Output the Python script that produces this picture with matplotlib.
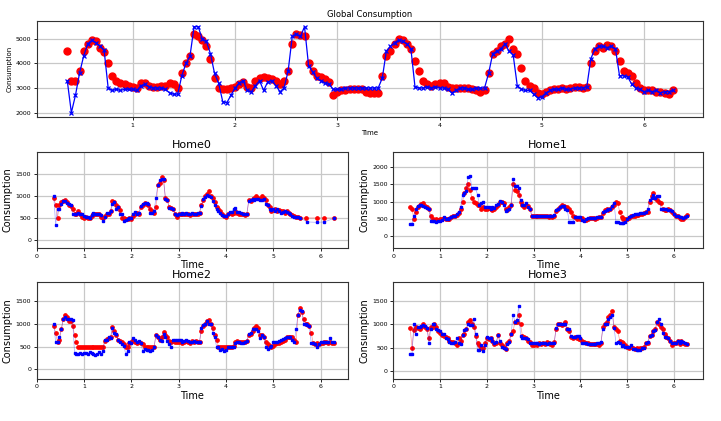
import numpy as np
import matplotlib
matplotlib.use("Agg")
import matplotlib.pyplot as plt

nan = np.nan

# sample times, one every 0.04 from 0.36 to 6.28
time = np.round(np.arange(0.36, 6.2801, 0.04), 2)

# global consumption: red = measured, blue = predicted
global_red = [
    4500, 3300, 3300, 3700, 4500, 4800, 4950, 4900, 4650, 4450, 4000, 3500, 3300, 3200, 3150, 3100,
    3050, 3000, 3200, 3200, 3100, 3050, 3050, 3100, 3100, 3200, 3150, 3000, 3600, 4000, 4300, 5200, 5100, 4950, 4700, 4200, 3400, 3000, 2950, 2950, 3000,
    3050, 3150, 3250, 3050, 3000, 3300, 3400, 3450, 3400, 3350, 3300, 3150, 3300, 3700, 4800, 5200, 5150, 5100, 4000, 3700, 3500, 3450, 3350, 3250, 2700,
    2850, 2900, 2900, 2950, 2950, 2950, 2950, 2850, 2780, 2780, 2800, 3500, 4300, 4500, 4800, 5000, 4950, 4800, 4600, 4100, 3700, 3300, 3150, 3100, 3150,
    3200, 3200, 3050, 3000, 3000, 3000, 3000, 3000, 2950, 2900, 2850, 2900, 3600, 4400, 4500, 4700, 4800, 5000, 4600, 4400, 3800, 3300, 3100, 3000, 2800,
    2750, 2850, 2900, 2950, 2950, 3000, 2950, 3000, 3050, 3050, 3000, 3050, 4000, 4500, 4700, 4650, 4750, 4700, 4500, 4100, 3700, 3600, 3500, 3200, 3000,
    2900, 2900, 2900, 2850, 2850, 2800, 2750, 2900,
]
global_blue = [
    3300, 2000, 2700, 3600, 4300, 4800, 4950, 4850, 4700, 4550, 3000, 2900, 2950, 2900, 2950, 2950,
    2950, 2900, 3100, 3150, 3050, 3000, 3000, 3000, 2950, 2800, 2750, 2750, 3500, 4000, 4300, 5500, 5500, 5000, 4900, 4400, 3600, 3200, 2450, 2400, 2700,
    3000, 3200, 3300, 2900, 2850, 3100, 3300, 2900, 3250, 3300, 3100, 2850, 3000, 3700, 5100, 5200, 5100, 5500, 3900, 3650, 3400, 3300, 3200, 3150, 2950,
    2950, 2950, 3000, 3000, 3000, 3000, 3000, 3000, 3000, 3000, 3000, 3400, 4500, 4700, 4850, 4950, 4900, 4800, 4600, 3050, 3000, 3000, 3050, 3000, 3050,
    3000, 3000, 2950, 2800, 2900, 3000, 3000, 2950, 2950, 3000, 3000, 3000, 3600, 4400, 4500, 4600, 4800, 4500, 4350, 3100, 2950, 2900, 2900, 2750, 2600,
    2650, 2800, 2900, 2950, 2950, 3000, 2950, 2950, 3000, 3000, 3000, 3050, 4200, 4600, 4700, 4700, 4650, 4700, 4600, 3500, 3500, 3450, 3150, 3000, 2950,
    2850, 2900, 2850, 2900, 2800, 2850, 2850, 2900,
]

home0_red = [
    950, 800, 500, 800, 850, 880, 900, 850, 800, 780, 700, 600, 600, 650, 600, 520,
    500, 520, 500, 490, 550, 600, 580, 600, 580, 520, 500, 550, 600, 600, 650, 880, 850, 800, 750, 680, 500, 500, 480, 480, 500,
    480, 550, 600, 620, 580, 750, 800, 830, 820, 800, 700, 650, 620, 750, 1250, 1300, 1420, 1350, 950, 900, 750, 720, 700, 600, 520,
    580, 600, 600, 580, 600, 580, 570, 600, 580, 580, 600, 620, 800, 900, 1000, 1050, 1100, 1000, 950, 850, 750, 700, 650, 600, 550,
    520, 580, 620, 600, 620, 650, 620, 600, 600, 580, 560, 580, 900, 880, 920, 950, 1000, 950, 920, 1000, 950, 900, 800, 750, 650,
    680, 700, 650, 680, 650, 650, 620, 650, 620, 600, 560, 550, 520, 530, 500, nan, nan, 500, nan, nan, nan, nan, nan, 500, nan,
    nan, nan, 500, nan, nan, nan, nan, 500,
]
home0_blue = [
    1000, 350, 700, 700, 820, 880, 880, 830, 820, 800, 580, 580, 600, 620, 580, 600,
    550, 530, 520, 500, 560, 620, 600, 600, 580, 560, 420, 520, 620, 620, 650, 820, 850, 700, 750, 580, 580, 430, 450, 480, 500,
    500, 600, 640, 600, 620, 760, 820, 840, 830, 820, 620, 620, 650, 960, 1250, 1350, 1380, 1380, 920, 900, 720, 720, 700, 580, 560,
    600, 600, 620, 600, 610, 600, 600, 610, 600, 600, 610, 620, 780, 920, 980, 1020, 1000, 980, 880, 800, 700, 650, 620, 560, 540,
    540, 600, 640, 640, 700, 720, 640, 630, 620, 600, 600, 600, 880, 900, 920, 900, 930, 920, 900, 900, 920, 820, 800, 700, 680,
    700, 650, 700, 660, 620, 640, 660, 640, 620, 580, 540, 530, 520, 520, 500, nan, nan, nan, 410, nan, nan, nan, nan, 400, nan,
    nan, nan, 410, nan, nan, nan, nan, 490,
]

home1_red = [
    850, 800, 500, 700, 850, 900, 920, 950, 880, 850, 800, 600, 500, 480, 500, 480,
    500, 500, 520, 500, 500, 500, 560, 580, 580, 620, 680, 800, 1000, 1250, 1400, 1500, 1350, 1100, 1000, 950, 900, 900, 800, 850, 800,
    800, 820, 780, 750, 800, 850, 900, 1000, 1000, 950, 800, 750, 850, 900, 1500, 1350, 1300, 1200, 1000, 900, 850, 900, 880, 800, 600,
    600, 580, 580, 600, 580, 580, 580, 580, 560, 580, 550, 600, 720, 800, 850, 900, 880, 850, 850, 800, 700, 600, 550, 500, 520,
    500, 520, 480, 480, 500, 520, 520, 520, 500, 540, 550, 560, 680, 750, 780, 760, 800, 850, 900, 980, 950, 700, 550, 500, 500,
    500, 520, 580, 600, 600, 620, 620, 650, 650, 680, 700, 700, 1000, 1150, 1250, 1100, 1050, 1000, 950, 780, 760, 760, 780, 760, 700,
    650, 600, 580, 520, 500, 500, 550, 620,
]
home1_blue = [
    370, 370, 600, 780, 880, 900, 900, 880, 850, 820, 800, 450, 430, 440, 420, 450,
    430, 480, 550, 500, 500, 520, 560, 580, 600, 650, 700, 850, 1200, 1250, 1300, 1700, 1750, 1380, 1380, 1380, 1200, 900, 950, 1000, 850,
    850, 850, 800, 850, 820, 900, 920, 1020, 1000, 900, 720, 750, 800, 900, 1650, 1450, 1450, 1380, 1050, 900, 900, 950, 850, 800, 600,
    600, 600, 600, 600, 600, 580, 600, 600, 580, 600, 600, 620, 750, 800, 850, 880, 880, 800, 750, 420, 420, 420, 550, 570, 560,
    550, 460, 450, 500, 520, 520, 530, 530, 520, 550, 550, 560, 700, 740, 760, 780, 800, 880, 950, 420, 400, 380, 380, 380, 400,
    500, 550, 600, 620, 640, 640, 650, 660, 660, 680, 690, 800, 1050, 1100, 1200, 1100, 1150, 1150, 800, 780, 780, 780, 760, 760, 720,
    650, 600, 600, 550, 550, 530, 550, 600,
]

home2_red = [
    950, 800, 600, 650, 880, 1100, 1200, 1150, 1050, 1050, 950, 750, 600, 500, 500, 500,
    500, 500, 500, 500, 500, 500, 500, 500, 500, 500, 500, 620, 660, 680, 700, 920, 850, 750, 650, 620, 600, 550, 500, 480, 580,
    600, 650, 600, 580, 600, 580, 560, 500, 500, 500, 500, 500, 500, 750, 700, 650, 700, 820, 750, 700, 620, 600, 620, 600, 600,
    600, 620, 580, 600, 620, 600, 580, 620, 600, 620, 600, 600, 850, 950, 1000, 1050, 1080, 1000, 900, 750, 650, 500, 500, 500, 500,
    500, 500, 500, 500, 520, 600, 620, 600, 600, 600, 600, 620, 750, 780, 850, 900, 950, 900, 750, 750, 700, 600, 550, 520, 500,
    520, 550, 580, 580, 600, 620, 650, 700, 720, 720, 700, 650, 600, 1200, 1350, 1250, 1100, 1000, 1000, 950, 800, 580, 550, 580, 550,
    580, 580, 600, 600, 580, 600, 580, 580,
]
home2_blue = [
    1000, 600, 600, 700, 880, 1100, 1150, 1100, 1100, 1100, 1080, 350, 340, 330, 350, 340,
    350, 360, 340, 380, 350, 330, 320, 330, 380, 340, 400, 650, 650, 700, 680, 900, 800, 780, 650, 600, 550, 520, 340, 400, 600,
    580, 680, 640, 600, 620, 580, 400, 450, 420, 420, 400, 420, 500, 750, 700, 650, 620, 780, 720, 620, 550, 480, 650, 650, 640,
    650, 650, 600, 620, 650, 620, 600, 600, 620, 600, 600, 610, 900, 980, 1000, 1050, 1000, 1000, 800, 700, 500, 480, 420, 450, 400,
    420, 480, 500, 480, 500, 580, 600, 600, 580, 580, 600, 620, 780, 800, 880, 880, 880, 850, 680, 750, 720, 480, 450, 500, 520,
    600, 600, 600, 620, 640, 660, 680, 720, 720, 700, 650, 600, 880, 1200, 1300, 1280, 1000, 1000, 980, 950, 580, 580, 560, 500, 550,
    600, 600, 600, 600, 600, 680, 600, 600,
]

home3_red = [
    920, 500, 880, 950, 920, 900, 950, 1000, 950, 900, 700, 950, 950, 1000, 950, 850,
    820, 780, 750, 720, 700, 650, 620, 620, 600, 550, 700, 650, 780, 800, 900, 1050, 1080, 1000, 950, 750, 600, 550, 500, 500, 600,
    700, 680, 700, 650, 580, 600, 760, 600, 550, 520, 480, 600, 650, 800, 850, 1050, 1050, 1200, 1000, 750, 720, 700, 650, 620, 550,
    550, 580, 560, 600, 580, 600, 580, 620, 600, 580, 560, 620, 900, 1000, 1000, 980, 1000, 1050, 900, 850, 720, 700, 720, 700, 680,
    680, 650, 620, 600, 600, 580, 580, 580, 580, 580, 550, 600, 950, 1000, 1050, 1150, 1200, 1280, 950, 900, 850, 650, 620, 600, 550,
    520, 500, 520, 500, 480, 500, 480, 500, 500, 520, 600, 600, 750, 780, 850, 900, 1050, 1000, 950, 900, 800, 720, 700, 650, 550,
    600, 600, 650, 580, 650, 600, 580, 570,
]
home3_blue = [
    360, 360, 1000, 800, 950, 950, 960, 980, 960, 920, 600, 900, 1000, 1000, 900, 880,
    850, 800, 800, 700, 680, 620, 600, 600, 620, 700, 600, 580, 780, 880, 900, 1000, 980, 980, 1100, 800, 450, 450, 550, 430, 550,
    720, 700, 700, 650, 600, 620, 770, 650, 520, 500, 480, 580, 620, 800, 1200, 1050, 1080, 1380, 750, 700, 700, 700, 680, 600, 600,
    600, 600, 600, 580, 600, 600, 600, 580, 600, 600, 600, 600, 920, 1000, 1000, 1000, 1000, 1000, 900, 900, 750, 720, 720, 750, 750,
    700, 600, 600, 600, 580, 580, 580, 580, 570, 600, 600, 620, 900, 1000, 1000, 1100, 1150, 1200, 920, 600, 620, 600, 540, 550, 520,
    520, 520, 550, 480, 480, 460, 460, 450, 500, 500, 600, 620, 750, 760, 850, 880, 1050, 1100, 1000, 820, 720, 720, 700, 650, 600,
    600, 600, 650, 600, 650, 620, 600, 570,
]

homes = ["Home0", "Home1", "Home2", "Home3"]
home_red = [home0_red, home1_red, home2_red, home3_red]
home_blue = [home0_blue, home1_blue, home2_blue, home3_blue]


def style(ax, size):
    ax.grid(True, color="#c8c8c8", linewidth=0.9)
    ax.tick_params(labelsize=size, length=2.5, width=0.6, pad=1.5)
    for sp in ax.spines.values():
        sp.set_linewidth(0.8)
        sp.set_color("#333333")


fig = plt.figure(figsize=(7.21, 4.21), dpi=100)

# top panel
ax = fig.add_axes([0.0513, 0.7221, 0.9237, 0.228])
ax.plot(time, global_red, "ro", markersize=5)
ax.plot(time, global_blue, "bx-", markersize=3.4, linewidth=0.9, markeredgewidth=0.9)
ax.set_xlim(0.064, 6.576)
ax.set_ylim(1820, 5730)
ax.set_xticks([1, 2, 3, 4, 5, 6])
ax.set_yticks([2000, 3000, 4000, 5000])
ax.set_title("Global Consumption", fontsize=6, pad=3)
ax.set_xlabel("Time", fontsize=5, labelpad=2)
ax.set_ylabel("Consumption", fontsize=5, labelpad=2)
style(ax, 4.5)

# four homes
boxes = [
    [0.0509, 0.4109, 0.4313, 0.228],
    [0.5455, 0.4109, 0.4295, 0.228],
    [0.0509, 0.1005, 0.4313, 0.229],
    [0.5455, 0.1005, 0.4295, 0.229],
]
xmax = [6.57, 6.62, 6.57, 6.62]
ylims = [(-180, 1990), (-335, 2430), (-205, 1910), (-155, 1887)]
yticks = [[0, 500, 1000, 1500], [0, 500, 1000, 1500, 2000],
          [0, 500, 1000, 1500], [0, 500, 1000, 1500]]

for i, name in enumerate(homes):
    a = fig.add_axes(boxes[i])
    r = np.array(home_red[i], dtype=float)
    b = np.array(home_blue[i], dtype=float)
    mr = ~np.isnan(r)
    mb = ~np.isnan(b)
    a.plot(time[mr], r[mr], color="r", linewidth=0.5, alpha=0.4)
    a.plot(time[mr], r[mr], "ro", markersize=2.4)
    a.plot(time[mb], b[mb], color="b", linewidth=0.5, alpha=0.35)
    a.plot(time[mb], b[mb], "bs", markersize=1.9)
    a.set_xlim(0, xmax[i])
    a.set_ylim(*ylims[i])
    a.set_xticks(range(7))
    a.set_yticks(yticks[i])
    a.set_title(name, fontsize=8, pad=3)
    a.set_xlabel("Time", fontsize=7, labelpad=1)
    a.set_ylabel("Consumption", fontsize=7, labelpad=2)
    style(a, 4.5)

fig.savefig("out.png", dpi=100)
